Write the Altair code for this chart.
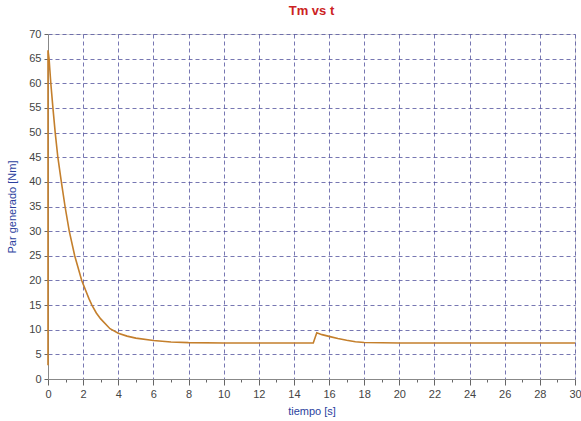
import altair as alt
import pandas as pd

t_vals = [0, 0, 0.06, 0.16, 0.28, 0.41, 0.56, 0.76, 0.97, 1.21, 1.52, 1.92, 2.33, 2.5, 2.75, 3.0, 3.53,
          4.0, 4.5, 5.0, 6.0, 7.0, 8.0, 10.0, 15.1, 15.3, 15.6, 16.05, 16.5, 17.0, 17.5, 18.0, 20.0, 30.0]
tm_vals = [2.8, 66.7, 65, 60, 55, 50, 45, 40, 35, 30, 25, 20, 16.3, 15, 13.4, 12.2, 10.2,
           9.3, 8.7, 8.3, 7.8, 7.5, 7.38, 7.3, 7.3, 9.4, 9.0, 8.6, 8.2, 7.85, 7.55, 7.4, 7.3, 7.3]

df = pd.DataFrame({"t": t_vals, "Tm": tm_vals, "i": list(range(len(t_vals)))})

grid_color = "#4a4a98"
font = "Liberation Sans"

x_axis = alt.Axis(
    values=list(range(0, 31)),
    labelExpr="datum.value % 2 === 0 ? datum.label : ''",
    title="tiempo [s]",
    titleColor="#2b3f9e",
    titleFont=font, titleFontSize=11, titleFontWeight="normal",
    titlePadding=6,
    labelColor="#444444", labelFont=font, labelFontSize=11, labelPadding=3,
    labelFlush=False,
    domainColor="#888888",
    tickColor="#666666",
    tickSize={"condition": {"test": "datum.value % 2 === 0", "value": 6}, "value": 3},
    grid=True,
    gridColor=grid_color,
    gridDash=[4, 3],
    gridOpacity={"condition": {"test": "datum.value % 2 === 0 && datum.value > 0", "value": 0.75}, "value": 0},
)

y_axis = alt.Axis(
    values=list(range(0, 71, 5)),
    title="Par generado [Nm]",
    titleColor="#2b3f9e",
    titleFont=font, titleFontSize=11, titleFontWeight="normal",
    titlePadding=11,
    labelColor="#444444", labelFont=font, labelFontSize=11, labelPadding=3,
    labelFlush=False,
    domainColor="#888888",
    tickColor="#666666", tickSize=4,
    grid=True, gridColor=grid_color, gridDash=[4, 3],
    gridOpacity={"condition": {"test": "datum.value > 0", "value": 0.75}, "value": 0},
)

chart = alt.Chart(df).mark_line(color="#c47f2c", strokeWidth=1.6).encode(
    x=alt.X("t:Q", scale=alt.Scale(domain=[0, 30], nice=False), axis=x_axis),
    y=alt.Y("Tm:Q", scale=alt.Scale(domain=[0, 70], nice=False), axis=y_axis),
    order="i:Q",
).properties(
    width=527,
    height=345,
    title=alt.TitleParams("Tm vs t", color="#cc2222", font=font, fontSize=13,
                          fontWeight="bold", anchor="middle", offset=10),
    autosize=alt.AutoSizeParams(type="none"),
    padding={"left": 48, "top": 34, "right": 6, "bottom": 42},
).configure_view(stroke=None).configure(background="white")

chart.save("out.html", embed_options={"renderer": "svg", "actions": False})
